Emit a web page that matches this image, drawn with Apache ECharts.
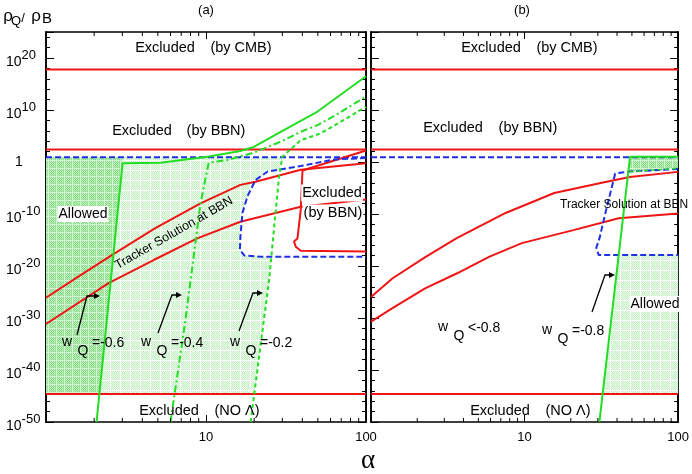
<!DOCTYPE html>
<html><head><meta charset="utf-8">
<script src="https://cdn.jsdelivr.net/npm/echarts@6/dist/echarts.min.js"></script>
<style>html,body{margin:0;padding:0;background:#fff}#c{width:692px;height:474px}</style>
</head><body><div id="c"></div><script>
// ---------------- DATA (x = alpha, y = log10(rho_Q/rho_B)) ----------------
const alphaRange = [1, 100];
const alphaMinorTicks = [2,3,4,5,6,7,8,9,20,30,40,50,60,70,80,90];
const cmbLimit = 17.8;
const bbnLimit = 2.4;
const noLambdaLimit = -44.6;
const trackerTop = 0.9;

// panel (a)
const trackerUpperA = [[1,-26.1],[1.6,-22.0],[2.58,-17.9],[4.82,-12.7],[9.24,-7.94],[16.4,-4.4],[20.4,-3.8],[39.1,-1.5],[100,-0.25]];
const trackerLowerA = [[1,-31.15],[2.46,-23.3],[4.71,-18.85],[8.81,-14.7],[16.4,-11.5],[39.1,-8.6],[100,-7.2]];
const bbnExclA = [[100,2.2],[40.1,-1.63],[39.1,-9.2],[37.3,-14.7],[35.5,-15.3],[36.4,-16.3],[39.1,-17.06],[100,-17.2]];
const trackerBbnA = [[100,0.77],[63,0.48],[39.1,-0.77],[24.3,-1.83],[20.4,-3.46],[18.2,-6.54],[16.9,-9.8],[16.4,-14.4],[16.3,-16.9],[17.4,-18.0],[22.0,-18.2],[100,-18.2]];
const wm06 = [[2.07,-50],[3.01,-0.25],[5.19,-0.13],[10.2,1.0],[16.4,2.1],[19.9,2.9],[29.3,5.8],[49.8,9.7],[100,16.5]];
const wm04 = [[6.0,-50],[7.44,-30.4],[9.24,-7.94],[10.4,-0.13],[13.6,0.38],[19.9,1.8],[29.3,3.9],[39.1,5.8],[49.8,7.1],[63,8.8],[100,12.6]];
const wm02 = [[19.0,-50],[24.8,-22.7],[28.6,-2.8],[30.0,1.0],[39.1,4.2],[52.2,5.5],[100,10.6]];
const allowedDarkA = [[1,-44.6],[1,0.9],[3.01,0.9],[3.01,-0.25],[2.157,-44.6]];
const allowedLightA = [[3.01,0.9],[30.0,0.9],[29.1,-1.5],[24.3,-1.83],[20.4,-3.46],[18.2,-6.54],[16.9,-9.8],[16.4,-14.4],[16.3,-16.9],[17.4,-18.0],[22.0,-18.2],[25.6,-18.2],[24.8,-22.7],[20.0,-44.6],[2.157,-44.6],[3.01,-0.25]];

// panel (b)
const trackerUpperB = [[1,-25.96],[1.377,-22.4],[2.256,-18.3],[3.64,-14.6],[7.53,-9.8],[15.6,-5.96],[33.6,-3.85],[48.4,-2.9],[100,-1.9]];
const trackerLowerB = [[1,-30.7],[1.38,-28.1],[2.25,-24.3],[3.64,-21.4],[5.91,-18.2],[9.6,-15.6],[20.8,-13.1],[41.0,-10.8],[100,-9.9]];
const trackerBbnB = [[100,-1.35],[48.4,-1.83],[38.9,-2.21],[33.6,-9.8],[30.8,-14.6],[29.3,-16.5],[30.4,-17.9],[100,-17.9]];
const wm08 = [[30.7,-50],[48.6,1.0],[100,1.0]];
const wm08low = [[48.6,-1.87],[100,-1.2]];
const allowedTopB = [[48.6,1.0],[100,1.0],[100,-1.2],[48.0,-1.87]];
const allowedLowB = [[40.9,-17.9],[100,-17.9],[100,-44.6],[32.2,-44.6]];

const yTickMajor = 10, yTickMinor = 2, yMin = -50, yMax = 25;

// ---------------- STYLE ----------------
const FONT = '"Liberation Sans", Arial, sans-serif';
const RED = '#f01414', GREEN = '#22dd22', BLUE = '#1f2fe6';

function pattern(kind) {
  const c = document.createElement('canvas');
  const g = c.getContext('2d');
  if (kind === 'dark') {
    c.width = c.height = 8;
    g.fillStyle = '#c0efc0'; g.fillRect(0,0,8,8);
    g.fillStyle = '#86da86';
    for (let y=0;y<8;y++) for (let x=0;x<8;x++) if ((x+y)%2===0) g.fillRect(x,y,1,1);
    g.fillStyle = '#d2f5d2'; g.fillRect(0,0,8,1); g.fillRect(0,0,1,8);
  } else {
    c.width = c.height = 10;
    g.fillStyle = '#edfbed'; g.fillRect(0,0,10,10);
    g.fillStyle = '#c2efc2';
    for (let y=0;y<10;y++) for (let x=0;x<10;x++) if ((x+y)%2===0) g.fillRect(x,y,1,1);
    g.fillStyle = '#ffffff'; g.fillRect(0,0,10,1); g.fillRect(0,0,1,10);
  }
  return {image: c, repeat: 'repeat'};
}
const darkFill = pattern('dark'), lightFill = pattern('light');

const grids = [
  {left: 46, top: 32, width: 320, height: 390},
  {left: 371, top: 32, width: 316, height: 390}
];

function xAxes(gi) {
  const base = {type:'log', logBase:10, min:alphaRange[0], max:alphaRange[1], gridIndex:gi,
    axisLine:{show:true, onZero:false, lineStyle:{color:'#000', width:1.6}},
    axisTick:{show:true, inside:true, length:7, lineStyle:{color:'#000', width:1}},
    minorTick:{show:false},
    splitLine:{show:false}, minorSplitLine:{show:false}};
  return [
    Object.assign({}, base, {position:'bottom', axisLabel:{show:true, margin:9, fontSize:13, fontFamily:FONT, color:'#000',
      formatter: v => (Math.abs(v-1) < 1e-6 ? '' : String(Math.round(v)))}}),
    Object.assign({}, base, {position:'top', axisLabel:{show:false}})
  ];
}
function yAxes(gi, withLabels) {
  const common = {type:'value', min:yMin, max:yMax, gridIndex:gi, splitLine:{show:false},
    axisLine:{show:true, onZero:false, lineStyle:{color:'#000', width:1.6}}};
  const major = (pos, lab) => Object.assign({}, common, {position:pos, interval:yTickMajor,
    axisTick:{show:true, inside:true, length:8, lineStyle:{color:'#000', width:1}},
    axisLabel: lab ? {show:true, margin:40, align:'left', color:'#000', fontFamily:FONT,
      formatter: v => { if (v === 0) return '{one|1}'; if (v % 10 === 0 && v <= 20) return '{b|10}{e|' + v + '}'; return ''; },
      rich:{ b:{fontSize:14, fontFamily:FONT, color:'#000', padding:[8,0,0,0]},
             e:{fontSize:13, fontFamily:FONT, color:'#000', padding:[0,0,6,0]},
             one:{fontSize:14, fontFamily:FONT, color:'#000', padding:[0,0,0,9]} } } : {show:false}});
  const minor = (pos) => Object.assign({}, common, {position:pos, interval:yTickMinor,
    axisTick:{show:true, inside:true, length:4, lineStyle:{color:'#000', width:1}}, axisLabel:{show:false}});
  return [major('left', withLabels), minor('left'), major('right', false), minor('right')];
}

function line(data, xi, yi, color, type, width, z) {
  return {type:'line', xAxisIndex:xi, yAxisIndex:yi, data:data, symbol:'none', showSymbol:false, silent:true,
    z: z || 3, clip:true, smooth:false,
    lineStyle:{color:color, width:width || 2, type:type || 'solid'}, animation:false};
}
function hline(level, xi, yi, color, type) {
  return line([[alphaRange[0], level],[alphaRange[1], level]], xi, yi, color, type);
}
function region(poly, xi, yi, fill) {
  return {type:'custom', xAxisIndex:xi, yAxisIndex:yi, data:[[1,0]], encode:{x:0, y:1}, silent:true, z:1,
    animation:false, clip:true,
    renderItem: (p, api) => ({type:'polygon', shape:{points: poly.map(pt => api.coord(pt))}, style:{fill: fill}})};
}
function minorTicks(xi, yi) {
  return {type:'custom', xAxisIndex:xi, yAxisIndex:yi, data: alphaMinorTicks.map(a => [a, yMin]), encode:{x:0, y:1},
    silent:true, z:20, animation:false, clip:false,
    renderItem: (p, api) => {
      const b = api.coord([api.value(0), yMin]), t = api.coord([api.value(0), yMax]);
      return {type:'group', children:[
        {type:'line', shape:{x1:b[0], y1:b[1], x2:b[0], y2:b[1]-4}, style:{stroke:'#000', lineWidth:1}},
        {type:'line', shape:{x1:t[0], y1:t[1], x2:t[0], y2:t[1]+4}, style:{stroke:'#000', lineWidth:1}}
      ]};
    }};
}

const DASH = [6,3], GDASH = [4,3], DASHDOT = [7,3,2,3];
const series = [
  region(allowedDarkA, 0, 0, darkFill),
  region(allowedLightA, 0, 0, lightFill),
  region(allowedTopB, 2, 4, darkFill),
  region(allowedLowB, 2, 4, lightFill),
  minorTicks(0, 0), minorTicks(2, 4),
  // panel a
  hline(cmbLimit, 0, 0, RED), hline(bbnLimit, 0, 0, RED), hline(noLambdaLimit, 0, 0, RED),
  hline(trackerTop, 0, 0, BLUE, DASH),
  line(trackerUpperA, 0, 0, RED), line(trackerLowerA, 0, 0, RED), line(bbnExclA, 0, 0, RED),
  line(trackerBbnA, 0, 0, BLUE, DASH),
  line(wm06, 0, 0, GREEN, 'solid', 2, 4), line(wm04, 0, 0, GREEN, DASHDOT, 2, 4), line(wm02, 0, 0, GREEN, GDASH, 2, 4),
  // panel b
  hline(cmbLimit, 2, 4, RED), hline(bbnLimit, 2, 4, RED), hline(noLambdaLimit, 2, 4, RED),
  hline(trackerTop, 2, 4, BLUE, DASH),
  line(trackerUpperB, 2, 4, RED), line(trackerLowerB, 2, 4, RED),
  line(trackerBbnB, 2, 4, BLUE, DASH),
  line(wm08, 2, 4, GREEN, 'solid', 2, 4), line(wm08low, 2, 4, GREEN, GDASH, 1.5, 4)
];

// ---------------- ANNOTATIONS ----------------
function T(text, x, y, size, extra) {
  return {type:'text', x:x, y:y, z:100, silent:true,
    style:Object.assign({text:text, fill:'#000', fontSize:size || 14, fontFamily:FONT, align:'center', verticalAlign:'middle'}, extra || {})};
}
function wq(x, y, rest) {
  return [T('w', x, y, 14), T('Q', x + 16, y + 9, 14), T(rest, x + 25, y + 1, 14, {align:'left'})];
}
function arrow(pts) {
  const e = pts[pts.length - 1];
  return [
    {type:'polyline', z:100, silent:true, shape:{points: pts.slice(0, -1).concat([[e[0] - 4, e[1]]])}, style:{stroke:'#000', lineWidth:1.3, fill:null}},
    {type:'polygon', z:100, silent:true, shape:{points:[[e[0]-6, e[1]-3],[e[0], e[1]],[e[0]-6, e[1]+3]]}, style:{fill:'#000'}}
  ];
}
const WB = {backgroundColor:'#fff', padding:[1,1,1,1]};
const graphic = [].concat(
  [T('(a)', 206, 10, 13), T('(b)', 522, 10, 13),
   T('ρ', 8, 16, 17), T('Q', 16, 21, 13), T('/', 23, 18, 13), T('ρ', 36, 16, 17), T('B', 47, 19, 15),
   T('α', 368, 461, 27, {fontFamily:'"Liberation Serif", "DejaVu Serif", serif'}),
   T('Excluded', 165, 48, 14.5), T('(by CMB)', 241, 48, 14.5),
   T('Excluded', 142, 131, 14.5), T('(by BBN)', 216, 131, 14.5),
   T('Allowed', 83, 214, 14, WB),
   T('Excluded', 332, 193, 14.5, WB), T('(by BBN)', 333, 213, 14.5, WB),
   T('Excluded', 169, 411, 14.5), T('(NO Λ)', 237, 411, 14.5),
   {type:'text', x:174, y:233, rotation:0.52, z:100, silent:true,
    style:{text:'Tracker Solution at BBN', fill:'#000', fontSize:12.5, fontFamily:FONT, align:'center', verticalAlign:'middle'}},
   T('Excluded', 491, 48, 14.5), T('(by CMB)', 567, 48, 14.5),
   T('Excluded', 453, 128, 14.5), T('(by BBN)', 528, 128, 14.5),
   T('Tracker Solution at BBN', 560, 205, 12, {align:'left'}),
   T('Allowed', 655, 304, 14, WB),
   T('Excluded', 500, 411, 14.5), T('(NO Λ)', 568, 411, 14.5)],
  wq(67, 342, '=-0.6'), wq(146, 342, '=-0.4'), wq(235, 342, '=-0.2'),
  wq(443, 327, '<-0.8'), wq(547, 330, '=-0.8'),
  arrow([[77,335],[87,296],[100,296]]),
  arrow([[158,333],[172,295],[182,295]]),
  arrow([[239,331],[253,293],[263,293]]),
  arrow([[592,312],[605,275],[615,275]])
);

const chart = echarts.init(document.getElementById('c'), null, {renderer:'canvas'});
chart.setOption({
  animation:false,
  backgroundColor:'#fff',
  grid: grids,
  xAxis: xAxes(0).concat(xAxes(1)),
  yAxis: yAxes(0, true).concat(yAxes(1, false)),
  series: series,
  graphic: graphic
});
</script></body></html>
